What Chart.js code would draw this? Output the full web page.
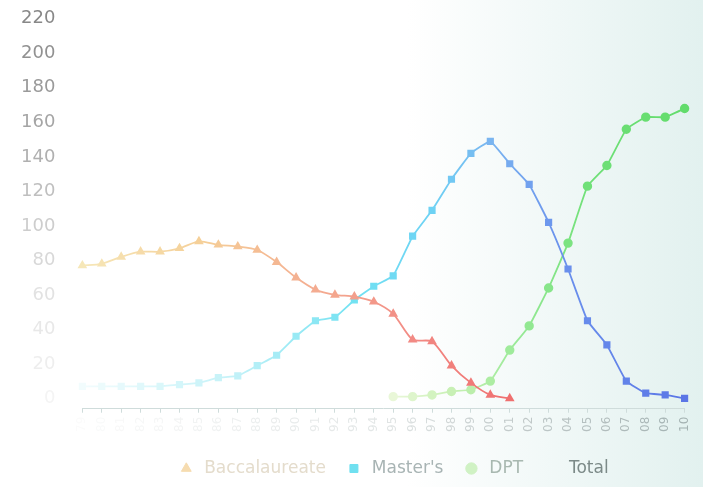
<!DOCTYPE html>
<html>
<head>
<meta charset="utf-8">
<script src="https://cdn.jsdelivr.net/npm/chart.js@4.4.0/dist/chart.umd.min.js"></script>
<style>
  html, body { margin: 0; padding: 0; background: #fff; overflow: hidden; }
  #wrap { width: 703px; height: 498px; margin-top: -11px; }
</style>
</head>
<body>
<div id="wrap"><canvas id="degreeChart"></canvas></div>
<script>
// Degrees awarded by year, 1979 - 2010
const years = ['79','80','81','82','83','84','85','86','87','88','89','90','91','92','93','94','95','96','97','98','99','00','01','02','03','04','05','06','07','08','09','10'];
const baccalaureate = [77, 78, 82, 85, 85, 87, 91, 89, 88, 86, 79, 70, 63, 60, 59, 56, 49, 34, 33, 19, 9, 2, 0, null, null, null, null, null, null, null, null, null];
const masters = [7, 7, 7, 7, 7, 8, 9, 12, 13, 19, 25, 36, 45, 47, 57, 65, 71, 94, 109, 127, 142, 149, 136, 124, 102, 75, 45, 31, 10, 3, 2, 0];
const dpt = [null, null, null, null, null, null, null, null, null, null, null, null, null, null, null, null, 1, 1, 2, 4, 5, 10, 28, 42, 64, 90, 123, 135, 156, 163, 163, 168];
const total = [];
const yTicks = [0, 20, 40, 60, 80, 100, 120, 140, 160, 180, 200, 220];

// colour stops along the x axis (the slide fades out on the left)
const baccStops = [[0, '#f6e7b8'], [0.2, '#f5cf98'], [0.4, '#f4aa90'], [0.55, '#f28a84'], [0.72, '#ef6e6e']];
const mastersStops = [[0, '#f2fcfd'], [0.25, '#c4f2f8'], [0.45, '#72e2f2'], [0.58, '#6ed2f4'], [0.68, '#7ab4f0'], [0.8, '#6a90ec'], [1, '#5b76e6']];
const dptStops = [[0.5, '#eef8de'], [0.62, '#c6f0b2'], [0.72, '#9aea98'], [0.84, '#70e078'], [1, '#62dc6c']];

function hexRgb(h) {
    return [parseInt(h.slice(1, 3), 16), parseInt(h.slice(3, 5), 16), parseInt(h.slice(5, 7), 16)];
}
function colorAt(stops, t) {
    if (t <= stops[0][0]) return stops[0][1];
    for (let i = 1; i < stops.length; i++) {
        if (t <= stops[i][0]) {
            const a = hexRgb(stops[i - 1][1]), b = hexRgb(stops[i][1]);
            const f = (t - stops[i - 1][0]) / (stops[i][0] - stops[i - 1][0]);
            return 'rgb(' + a.map((v, k) => Math.round(v + (b[k] - v) * f)).join(',') + ')';
        }
    }
    return stops[stops.length - 1][1];
}
function lineGradient(stops) {
    return function (context) {
        const chart = context.chart;
        const area = chart.chartArea;
        if (!area) return stops[stops.length - 1][1];
        const g = chart.ctx.createLinearGradient(area.left, 0, area.right, 0);
        stops.forEach(s => g.addColorStop(s[0], s[1]));
        return g;
    };
}
function pointColor(stops) {
    return function (context) {
        return colorAt(stops, context.dataIndex / (years.length - 1));
    };
}

const slideBackground = {
    id: 'slideBackground',
    beforeDraw(chart) {
        const c = chart.ctx;
        const g = c.createLinearGradient(0, 0, chart.width, 0);
        g.addColorStop(0, '#ffffff');
        g.addColorStop(0.58, '#ffffff');
        g.addColorStop(1, '#e2f1ef');
        c.save();
        c.fillStyle = g;
        c.fillRect(0, 0, chart.width, chart.height);
        c.restore();
    }
};

// the legend on the slide sits a little right of centre
const legendShift = {
    id: 'legendShift',
    afterLayout(chart) {
        if (chart.legend) {
            chart.legend.left += 12;
            chart.legend.right += 12;
        }
    }
};

const ctx = document.getElementById('degreeChart').getContext('2d');
new Chart(ctx, {
    type: 'line',
    data: {
        labels: years,
        datasets: [
            {
                label: 'Baccalaureate',
                data: baccalaureate,
                borderColor: lineGradient(baccStops),
                backgroundColor: pointColor(baccStops),
                pointBorderColor: pointColor(baccStops),
                pointStyle: 'triangle',
                pointRadius: 3.8,
                borderWidth: 1.8,
                tension: 0.25
            },
            {
                label: "Master's",
                data: masters,
                borderColor: lineGradient(mastersStops),
                backgroundColor: pointColor(mastersStops),
                pointBorderColor: pointColor(mastersStops),
                pointStyle: 'rect',
                pointRadius: 3.8,
                borderWidth: 1.8,
                tension: 0.1
            },
            {
                label: 'DPT',
                data: dpt,
                borderColor: lineGradient(dptStops),
                backgroundColor: pointColor(dptStops),
                pointBorderColor: pointColor(dptStops),
                pointStyle: 'circle',
                pointRadius: 3.8,
                borderWidth: 1.8,
                tension: 0.1
            },
            {
                label: 'Total',
                data: total,
                borderColor: 'rgba(0,0,0,0)',
                backgroundColor: 'rgba(0,0,0,0)',
                pointStyle: 'circle'
            }
        ]
    },
    plugins: [slideBackground, legendShift],
    options: {
        responsive: true,
        maintainAspectRatio: false,
        animation: false,
        layout: {
            autoPadding: false,
            padding: { left: 2, right: 13, top: 0, bottom: 0 }
        },
        plugins: {
            tooltip: { enabled: false },
            legend: {
                position: 'bottom',
                fullSize: false,
                labels: {
                    usePointStyle: true,
                    boxWidth: 8,
                    boxHeight: 8,
                    padding: 24,
                    font: { family: 'DejaVu Sans', size: 17 },
                    generateLabels: function (chart) {
                        const textColors = ['#e4dccc', '#a8b4b4', '#a8b8b0', '#7c8a88'];
                        const markColors = ['#f6dcb0', '#70e0f0', '#d0f2c4', 'rgba(0,0,0,0)'];
                        return chart.data.datasets.map((ds, i) => ({
                            text: ' ' + ds.label,
                            fillStyle: markColors[i],
                            strokeStyle: markColors[i],
                            fontColor: textColors[i],
                            pointStyle: ds.pointStyle,
                            lineWidth: 1,
                            hidden: false,
                            datasetIndex: i
                        }));
                    }
                }
            }
        },
        scales: {
            x: {
                grid: {
                    display: true,
                    drawOnChartArea: false,
                    drawTicks: true,
                    tickLength: 4,
                    color: '#cfdcdb'
                },
                border: { display: true, color: '#cfdcdb' },
                ticks: {
                    minRotation: 90,
                    maxRotation: 90,
                    padding: 4,
                    font: { family: 'DejaVu Sans', size: 12 },
                    color: function (context) {
                        const t = context.index / (years.length - 1);
                        return colorAt([[0, '#fbfbfb'], [0.5, '#e2e6e6'], [0.7, '#c4cccc'], [1, '#a4b2b2']], t);
                    }
                }
            },
            y: {
                min: -6,
                max: 220,
                afterBuildTicks: function (scale) {
                    scale.ticks = yTicks.map(v => ({ value: v }));
                },
                grid: { display: false },
                border: { display: false },
                ticks: {
                    padding: 19,
                    font: { family: 'DejaVu Sans', size: 18 },
                    color: function (context) {
                        const v = context.tick.value;
                        return colorAt([[0, '#f4f4f4'], [60, '#e2e2e2'], [100, '#cdcdcd'], [140, '#b0b0b0'], [180, '#9a9a9a'], [220, '#888888']], v);
                    }
                }
            }
        }
    }
});
</script>
</body>
</html>
